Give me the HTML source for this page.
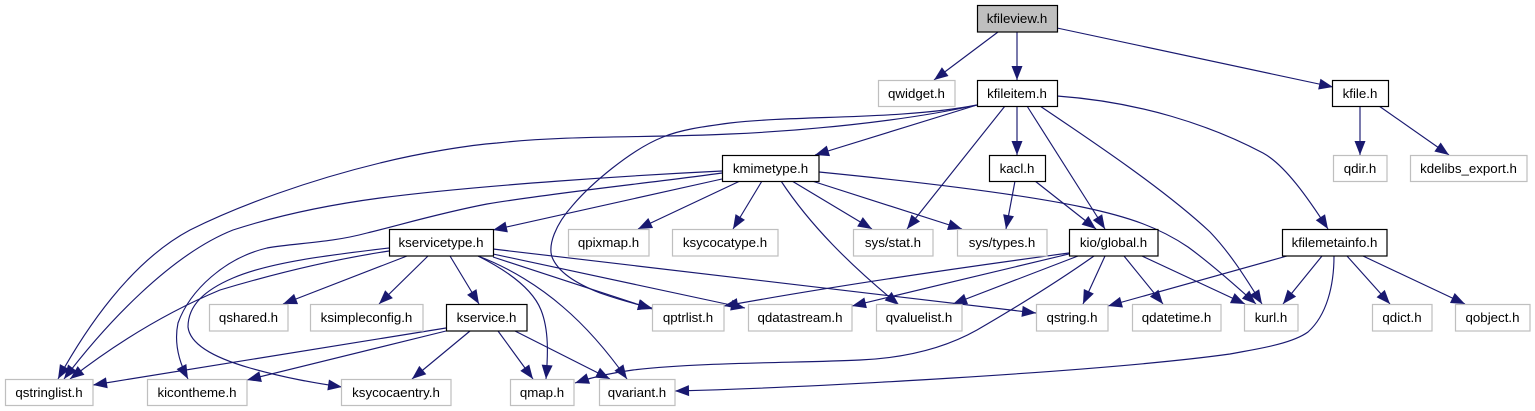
<!DOCTYPE html>
<html><head><meta charset="utf-8"><style>
html,body{margin:0;padding:0;background:#fff;width:1535px;height:411px;overflow:hidden}
svg{display:block}
.e path{fill:none;stroke:#191970;stroke-width:1.15;marker-end:url(#a)}
.n rect{fill:#fff;stroke:#000;stroke-width:1.2}
.g rect{fill:#fff;stroke:#bfbfbf;stroke-width:1.2}
text{font-family:"Liberation Sans",sans-serif;font-size:13.3px;text-anchor:middle;fill:#000}
</style></head><body>
<svg width="1535" height="411" viewBox="0 0 1535 411" xmlns="http://www.w3.org/2000/svg">
<defs><marker id="a" markerUnits="userSpaceOnUse" markerWidth="16" markerHeight="12" refX="14" refY="5.5" orient="auto" overflow="visible"><path d="M0,0 L14,5.5 L0,11 Z" fill="#191970" stroke="none"/></marker></defs>
<g class="e">
<path d="M998,32 L934,80"/>
<path d="M1017,32 L1017,80"/>
<path d="M1057,28 L1333,87"/>
<path d="M1360,106 L1360,155"/>
<path d="M1379,106 L1449,155"/>
<path d="M977,105 L815,155"/>
<path d="M1017,106 L1017,155"/>
<path d="M977,105 C900,122 800,131 730,134 C650,138 570,135 497,143 C470,145 420,153 380,163 C310,180 240,205 190,230 C130,262 85,330 58,379"/>
<path d="M977,105 C900,120 800,115 730,123 C700,127 680,130 663,137 C630,150 590,185 573,205 C555,225 548,245 552,257 C558,272 575,283 600,293 C620,300 635,304 652,308"/>
<path d="M1005,106 L907,229"/>
<path d="M1027,106 L1105,229"/>
<path d="M1040,106 C1095,143 1165,190 1210,232 C1232,255 1248,282 1262,304"/>
<path d="M1057,96 C1140,102 1210,125 1263,153 C1285,165 1308,198 1328,229"/>
<path d="M722,171 C640,175 480,185 380,198 C320,206 270,218 233,230 C170,255 105,325 64,379"/>
<path d="M722,173 C650,183 560,192 487,204 C440,213 400,225 367,233 C330,243 295,243 267,248 C225,258 190,290 178,323 C174,342 178,360 188,379"/>
<path d="M722,179 L493,230"/>
<path d="M740,181 L638,229"/>
<path d="M762,181 L733,229"/>
<path d="M781,181 C810,225 850,265 899,305"/>
<path d="M792,181 L872,229"/>
<path d="M812,181 L962,229"/>
<path d="M819,172 C900,180 1010,192 1082,207 C1130,217 1160,228 1188,247 C1210,263 1235,285 1256,304"/>
<path d="M1015,181 L1006,229"/>
<path d="M1035,181 L1096,229"/>
<path d="M1069,253 C980,265 840,285 724,306"/>
<path d="M1069,254 C1000,270 920,290 852,306"/>
<path d="M1078,256 L953,304"/>
<path d="M1094,256 C1060,280 1020,305 977,330 C945,348 905,358 860,360 C800,363 700,362 633,370 C610,373 590,378 575,383"/>
<path d="M1105,256 L1083,304"/>
<path d="M1124,256 L1163,304"/>
<path d="M1142,256 L1245,304"/>
<path d="M1287,256 L1108,306"/>
<path d="M1322,256 L1283,304"/>
<path d="M1347,256 L1390,304"/>
<path d="M1363,256 L1465,304"/>
<path d="M1334,256 C1334,285 1327,315 1308,332 C1290,345 1250,350 1230,354 C1100,372 800,388 675,391"/>
<path d="M493,249 L1036,313"/>
<path d="M493,254 L745,308"/>
<path d="M493,257 L652,309"/>
<path d="M478,256 C510,272 533,290 541,310 C549,330 548,355 546,379"/>
<path d="M478,256 C510,268 540,287 563,307 C590,330 610,355 627,379"/>
<path d="M389,251 C330,260 270,275 220,290 C160,315 110,348 70,379"/>
<path d="M389,248 C330,255 270,262 233,278 C205,290 188,305 188,327 C190,345 215,358 250,368 C285,378 315,383 342,387"/>
<path d="M407,256 L283,304"/>
<path d="M428,256 L379,304"/>
<path d="M450,256 L479,304"/>
<path d="M446,328 L93,385"/>
<path d="M446,331 L247,380"/>
<path d="M470,331 L412,379"/>
<path d="M498,331 L533,379"/>
<path d="M515,331 L610,379"/>
</g>
<g class="n">
<rect x="977.5" y="5.5" width="80" height="26.5" style="fill:#bfbfbf"/><text x="1017" y="23">kfileview.h</text>
<rect x="977.5" y="80.5" width="80" height="26"/><text x="1017" y="98">kfileitem.h</text>
<rect x="1332.5" y="80.5" width="56" height="26"/><text x="1360" y="98">kfile.h</text>
<rect x="722.5" y="155.5" width="96.5" height="26"/><text x="770.5" y="173">kmimetype.h</text>
<rect x="989.5" y="155.5" width="56" height="26"/><text x="1017" y="173">kacl.h</text>
<rect x="389.5" y="229.5" width="104" height="26.5"/><text x="441" y="247">kservicetype.h</text>
<rect x="1069.5" y="229.5" width="88.5" height="26.5"/><text x="1113.5" y="247">kio/global.h</text>
<rect x="1282.5" y="229.5" width="104.5" height="26.5"/><text x="1334.5" y="247">kfilemetainfo.h</text>
<rect x="446.5" y="304.5" width="80.5" height="26.5"/><text x="486.5" y="322">kservice.h</text>
</g>
<g class="g">
<rect x="878.5" y="80.5" width="76.5" height="26"/><text x="916.5" y="98">qwidget.h</text>
<rect x="1333.5" y="155.5" width="53.5" height="26"/><text x="1360" y="173">qdir.h</text>
<rect x="1410.5" y="155.5" width="116.5" height="26"/><text x="1468.5" y="173">kdelibs_export.h</text>
<rect x="568.5" y="229.5" width="80.5" height="26.5"/><text x="608.5" y="247">qpixmap.h</text>
<rect x="672.5" y="229.5" width="105.5" height="26.5"/><text x="725" y="247">ksycocatype.h</text>
<rect x="853.5" y="229.5" width="79.5" height="26.5"/><text x="893" y="247">sys/stat.h</text>
<rect x="957.5" y="229.5" width="89.5" height="26.5"/><text x="1002" y="247">sys/types.h</text>
<rect x="209.5" y="304.5" width="78.5" height="26.5"/><text x="248.5" y="322">qshared.h</text>
<rect x="310.5" y="304.5" width="112.5" height="26.5"/><text x="366.5" y="322">ksimpleconfig.h</text>
<rect x="652.5" y="304.5" width="71.5" height="26.5"/><text x="688" y="322">qptrlist.h</text>
<rect x="748.5" y="304.5" width="103.5" height="26.5"/><text x="800" y="322">qdatastream.h</text>
<rect x="876.5" y="304.5" width="85.5" height="26.5"/><text x="919" y="322">qvaluelist.h</text>
<rect x="1036.5" y="304.5" width="71.5" height="26.5"/><text x="1072" y="322">qstring.h</text>
<rect x="1132.5" y="304.5" width="88.5" height="26.5"/><text x="1176.5" y="322">qdatetime.h</text>
<rect x="1244.5" y="304.5" width="53.5" height="26.5"/><text x="1271" y="322">kurl.h</text>
<rect x="1372.5" y="304.5" width="59.5" height="26.5"/><text x="1402" y="322">qdict.h</text>
<rect x="1455.5" y="304.5" width="74.5" height="26.5"/><text x="1492.5" y="322">qobject.h</text>
<rect x="5.5" y="379.5" width="87.5" height="26"/><text x="49" y="397">qstringlist.h</text>
<rect x="147.5" y="379.5" width="99.5" height="26"/><text x="197" y="397">kicontheme.h</text>
<rect x="341.5" y="379.5" width="109.5" height="26"/><text x="396" y="397">ksycocaentry.h</text>
<rect x="510.5" y="379.5" width="63.5" height="26"/><text x="542" y="397">qmap.h</text>
<rect x="599.5" y="379.5" width="75.5" height="26"/><text x="637" y="397">qvariant.h</text>
</g>
</svg>
</body></html>
